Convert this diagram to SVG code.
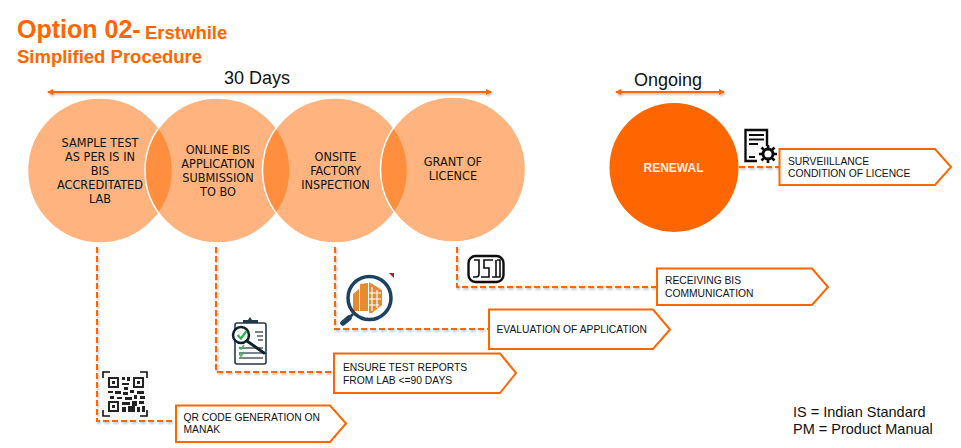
<svg xmlns="http://www.w3.org/2000/svg" width="961" height="448" viewBox="0 0 961 448">
<style>
text{font-family:"Liberation Sans",Arial,sans-serif}
.t{fill:#ff6600;font-weight:700}
.h{font-size:18px;fill:#111}
.c{font-family:"DejaVu Sans Condensed","DejaVu Sans",sans-serif;font-stretch:condensed;font-size:12.6px;fill:#111;text-anchor:middle}
.l{font-size:10.3px;fill:#111}
.k{font-size:14.5px;fill:#111}
.big{fill:#ff6a00;fill-opacity:.5;stroke:#fff;stroke-width:1.5}
.p{fill:#fff;stroke:#ff6600;stroke-width:2}
.d{fill:none;stroke:#ff6600;stroke-width:2;stroke-dasharray:6 3}
.a{fill:none;stroke:#ff6600;stroke-width:2;marker-start:url(#ah);marker-end:url(#ah)}
.i{fill:none;stroke:#111;stroke-width:1.6}
</style>
<defs>
<marker id="ah" viewBox="0 0 6 6" refX="5" refY="3" markerWidth="3" markerHeight="3" orient="auto-start-reverse"><path d="M0 0L6 3L0 6z" fill="#ff6600"/></marker>
<filter id="s" x="-10%" y="-10%" width="120%" height="120%"><feDropShadow dx="1" dy="1.5" stdDeviation="1" flood-color="#000" flood-opacity=".3"/></filter>
<filter id="b" x="-5%" y="-5%" width="110%" height="110%"><feGaussianBlur stdDeviation=".35"/></filter>
</defs>
<g id="title">
<text class="t" x="17" y="38" font-size="25">Option 02-</text>
<text class="t" x="145" y="39" font-size="18.5">Erstwhile</text>
<text class="t" x="17" y="62.500" font-size="18.5">Simplified Procedure</text>
</g>
<g id="connectors">
<g filter="url(#s)">
<path class="d" d="M97 247V421H176"/>
<path class="d" d="M216 247V372H334"/>
<path class="d" d="M335 247V329H489"/>
<path class="d" d="M457 247V287H657"/>
<path class="d" d="M739 167H779"/>
<path class="a" d="M48 92H491"/>
<path class="a" d="M616 92H724"/>
</g>
</g>
<g id="span-30"><text class="h" x="257" y="84" text-anchor="middle">30 Days</text></g>
<g id="span-ongoing"><text class="h" x="668" y="86" text-anchor="middle">Ongoing</text></g>
<g id="step-1"><circle class="big" cx="100" cy="170.5" r="72.5"/>
<text class="c" x="100" y="147">SAMPLE TEST</text><text class="c" x="100" y="161">AS PER IS IN</text><text class="c" x="100" y="175">BIS</text><text class="c" x="100" y="189">ACCREDITATED</text><text class="c" x="100" y="203">LAB</text></g>
<g id="step-2"><circle class="big" cx="217.500" cy="170.500" r="72.5"/>
<text class="c" x="218" y="154">ONLINE BIS</text><text class="c" x="218" y="168">APPLICATION</text><text class="c" x="218" y="182">SUBMISSION</text><text class="c" x="218" y="196">TO BO</text></g>
<g id="step-3"><circle class="big" cx="335" cy="170.500" r="72.5"/>
<text class="c" x="335.500" y="161">ONSITE</text><text class="c" x="335.500" y="175">FACTORY</text><text class="c" x="335.500" y="189">INSPECTION</text></g>
<g id="step-4"><circle class="big" cx="453" cy="169.500" r="72.5"/>
<text class="c" x="453" y="166">GRANT OF</text><text class="c" x="453" y="180">LICENCE</text></g>
<g id="renewal"><circle cx="674" cy="167.500" r="64.500" fill="#ff6600"/>
<text x="673.500" y="172" text-anchor="middle" font-size="12" font-weight="700" fill="#fdeee2">RENEWAL</text></g>
<g id="box-surveillance"><path class="p" d="M779.500 149H935L951 167L935 185H779.500Z"/>
<text class="l" x="788" y="165">SURVEIILLANCE</text><text class="l" x="788" y="177">CONDITION OF LICENCE</text></g>
<g id="box-receiving"><path class="p" d="M657 268.500H812L828 287L812 305H657Z"/>
<text class="l" x="665" y="284">RECEIVING BIS</text><text class="l" x="665" y="297">COMMUNICATION</text></g>
<g id="box-evaluation"><path class="p" d="M489 309.500H653L670 329.500L653 349H489Z"/>
<text class="l" x="496.500" y="333">EVALUATION OF APPLICATION</text></g>
<g id="box-reports"><path class="p" d="M334 353.500H500L516 373L500 393H334Z"/>
<text class="l" x="343" y="371">ENSURE TEST REPORTS</text><text class="l" x="343" y="384">FROM LAB &lt;=90 DAYS</text></g>
<g id="box-qr"><path class="p" d="M176 405.500H330L346 423.500L330 442H176Z"/>
<text class="l" x="183.500" y="421">QR CODE GENERATION ON</text><text class="l" x="183.500" y="433">MANAK</text></g>
<g id="legend"><text class="k" x="793" y="417">IS = Indian Standard</text><text class="k" x="793" y="434">PM = Product Manual</text></g>
<g id="icon-doc" filter="url(#b)">
<path d="M767 146V130H745.500V161H757" fill="none" stroke="#111" stroke-width="2.400"/>
<path d="M749 135H764M749 139.500H764M749 144H758M749 157H755" stroke="#111" stroke-width="1.800" fill="none"/>
<path d="M768 145V163M759 154H777M761.500 147.500L774.500 160.500M774.500 147.500L761.500 160.500" stroke="#111" stroke-width="2.600"/>
<circle cx="768" cy="154" r="5" fill="#fff" stroke="#111" stroke-width="3"/>
</g>
<g id="icon-isi" filter="url(#b)">
<rect x="468.500" y="256" width="35" height="26" rx="7" fill="none" stroke="#111" stroke-width="2.400"/>
<path d="M473 277H476Q479 277 479 274V260H474M493 260H484V268H489V277H481M497 260H500V277H492M496 260V277" fill="none" stroke="#111" stroke-width="1.600"/>
</g>
<g id="icon-inspect" filter="url(#b)">
<path d="M389 273H394V278Z" fill="#a51c30"/>
<path d="M353 311V294L359 289V311ZM360 311V284L368 283V311ZM369 282L382 290V305L372 313H369Z" fill="#e88a2e"/>
<path d="M372 287V311M377 290V308M369 293H381M369 299H381M369 305H379" stroke="#fff" stroke-width="1.200"/>
<circle cx="369.500" cy="298" r="21.500" fill="none" stroke="#1c4263" stroke-width="3.500"/>
<path d="M353 314L349 318" stroke="#1c4263" stroke-width="2.500"/>
<path d="M349 318L343 323" stroke="#1c4263" stroke-width="5.500" stroke-linecap="round"/>
</g>
<g id="icon-clipboard" filter="url(#b)">
<rect x="235" y="323" width="31" height="41" rx="2" fill="#fff" stroke="#23384a" stroke-width="1.600"/>
<path d="M243 323V320H248L250 317L252 320H258V323Z" fill="#23384a"/>
<path d="M255 332H263M257 336H263M258 340H263M239 348H263M239 353H263M239 358H263" stroke="#4d5c68" stroke-width="1.600"/>
<path d="M239 347L241 349L244 345M239 354L241 356L244 352" fill="none" stroke="#3bb54a" stroke-width="1.500"/>
<circle cx="241" cy="335" r="8" fill="#fff" stroke="#10202c" stroke-width="2.500"/>
<path d="M237.500 335L241 338.500L246.500 331" fill="none" stroke="#2eb14a" stroke-width="2.200"/>
<path d="M247 341L264 353" stroke="#10202c" stroke-width="3" stroke-linecap="round"/>
</g>
<g id="icon-qr" filter="url(#b)">
<rect x="102" y="370" width="47" height="48" fill="#f8f8f8"/>
<path class="i" d="M103 378V372H110M140 372H147V378M103 410V416H110M140 416H147V410"/>
<path fill="#222" d="M108 377h11v11h-11zM110 379v7h7v-7zM112 381h3v3h-3zM133 377h11v11h-11zM135 379v7h7v-7zM137 381h3v3h-3zM108 401h11v11h-11zM110 403v7h7v-7zM112 405h3v3h-3z" fill-rule="evenodd"/>
<path fill="#222" d="M122 377h3v3h-3zM127 377h3v4h-3zM122 383h7v2h-7zM124 387h4v3h-4zM108 391h5v2h-5zM115 391h6v3h-6zM123 392h5v3h-5zM130 390h4v3h-4zM137 391h7v3h-7zM110 396h4v3h-4zM117 397h5v2h-5zM125 397h7v3h-7zM134 395h3v4h-3zM140 396h5v3h-5zM122 402h8v3h-8zM132 401h5v5h-5zM139 401h5v3h-5zM122 407h4v5h-4zM128 406h7v6h-7zM137 407h3v5h-3zM142 406h3v6h-3z"/>
</g>
</svg>
